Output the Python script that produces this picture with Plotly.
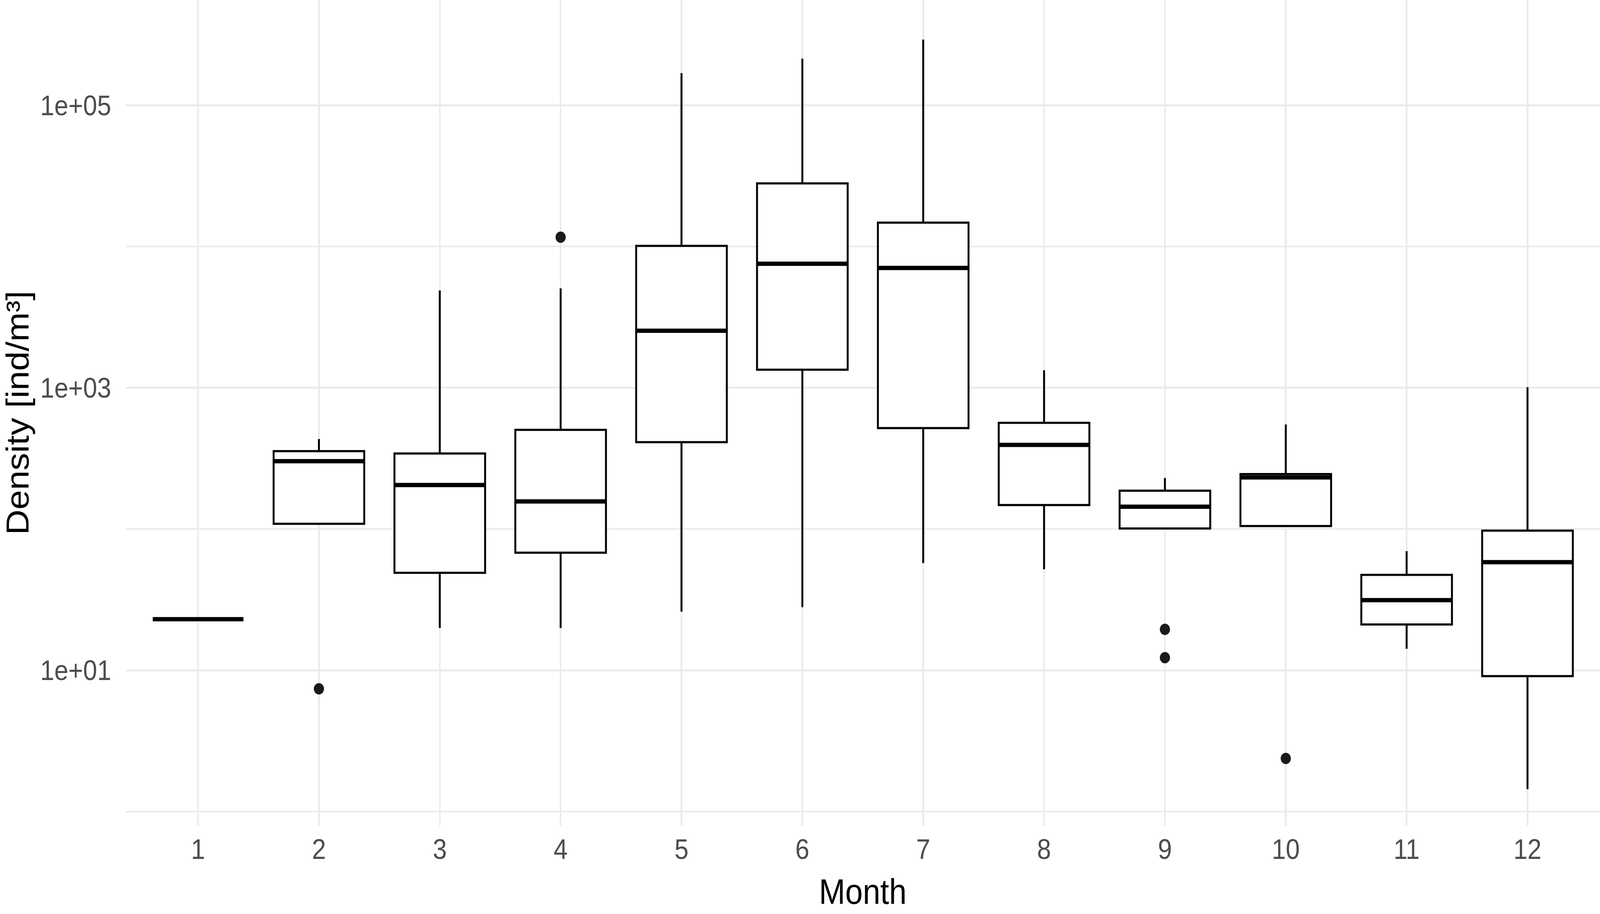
import plotly.graph_objects as go

# ---- data ----
months = [1, 2, 3, 4, 5, 6, 7, 8, 9, 10, 11, 12]
q1 = [23, 109, 49, 68, 412, 1343, 518, 148, 101, 105, 21.1, 9.1]
median = [23, 302, 205, 157, 2535, 7550, 7050, 394, 144, 232, 31.4, 58.3]
q3 = [23, 356, 343, 504, 10100, 28000, 14750, 565, 187, 245, 47.4, 97.5]
lower_whisker = [23, 109, 19.9, 19.9, 26, 28, 57.5, 51.9, 101, 105, 14.2, 1.44]
upper_whisker = [23, 434, 4890, 5060, 169000, 214000, 292000, 1330, 230, 550, 69.8, 1010]

outlier_month = [2, 4, 9, 9, 10]
outlier_value = [7.4, 11640, 19.5, 12.3, 2.38]

y_tick_vals = [10, 1000, 100000]
y_tick_text = ["1e+01", "1e+03", "1e+05"]
y_minor_vals = [1, 100, 10000, 1000000]

# ---- styling ----
FONT = "Liberation Sans, Arial, sans-serif"
BOX_W = 0.75
LINE_W = 5.5
GRID = "#EBEBEB"
W, H = 4562, 2340

fig = go.Figure()

for i, m in enumerate(months):
    fig.add_trace(go.Box(
        x=[m], q1=[q1[i]], median=[median[i]], q3=[q3[i]],
        lowerfence=[lower_whisker[i]], upperfence=[upper_whisker[i]],
        width=BOX_W, whiskerwidth=0,
        fillcolor="white", line=dict(color="#000000", width=LINE_W),
        boxpoints=False, showlegend=False, hoverinfo="skip",
    ))

# thick median lines (ggplot fatten)
mx, my = [], []
for m, md in zip(months, median):
    mx += [m - BOX_W / 2, m + BOX_W / 2, None]
    my += [md, md, None]
fig.add_trace(go.Scatter(
    x=mx, y=my, mode="lines",
    line=dict(color="#000000", width=LINE_W * 2),
    showlegend=False, hoverinfo="skip",
))

# outliers
fig.add_trace(go.Scatter(
    x=outlier_month, y=outlier_value, mode="markers",
    marker=dict(color="#1A1A1A", size=29, line=dict(width=0)),
    showlegend=False, hoverinfo="skip",
))

fig.update_layout(
    width=W, height=H,
    margin=dict(l=358, r=0, t=0, b=226, pad=0),
    paper_bgcolor="white", plot_bgcolor="white",
    font=dict(family=FONT, size=72, color="#4D4D4D"),
    xaxis=dict(
        range=[0.4, 12.6],
        tickmode="array", tickvals=months, ticktext=[str(m) for m in months],
        showgrid=True, gridcolor=GRID, gridwidth=4.5,
        zeroline=False, showline=False, ticks="",
        tickfont=dict(size=72, color="#4D4D4D", family=FONT),
        ticklabelstandoff=12,
        title=dict(text="Month", font=dict(size=90, color="#000000", family=FONT), standoff=38),
    ),
    yaxis=dict(
        type="log", range=[-0.10, 5.745],
        tickmode="array", tickvals=y_tick_vals, ticktext=y_tick_text,
        showgrid=True, gridcolor=GRID, gridwidth=4.5,
        minor=dict(tickvals=y_minor_vals, showgrid=True, gridcolor=GRID, gridwidth=3.5, ticks=""),
        zeroline=False, showline=False, ticks="",
        tickfont=dict(size=72, color="#4D4D4D", family=FONT),
        ticklabelstandoff=40,
        title=dict(text="Density [ind/m³]", font=dict(size=90, color="#000000", family=FONT), standoff=12),
    ),
)

post = (
    "document.documentElement.style.margin='0';"
    "document.body.style.margin='0';"
    "document.body.style.overflow='hidden';"
    "var gd=document.getElementById('{plot_id}');"
    "var sx=window.innerWidth/" + str(W) + ", sy=window.innerHeight/" + str(H) + ";"
    "gd.style.transformOrigin='0 0';"
    "gd.style.transform='scale('+sx+','+sy+')';"
)
fig.write_html("out.html", post_script=post, config={"displayModeBar": False})
